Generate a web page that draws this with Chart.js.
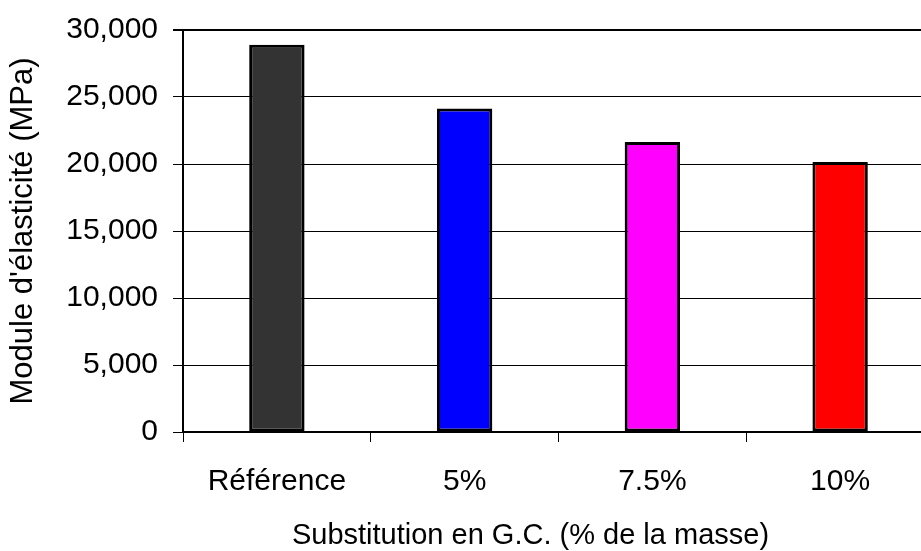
<!DOCTYPE html>
<html>
<head>
<meta charset="utf-8">
<script src="https://cdn.jsdelivr.net/npm/chart.js@4.4.0/dist/chart.umd.min.js"></script>
<style>
  html, body { margin: 0; padding: 0; background: #fff; overflow: hidden; }
  #wrap { width: 921px; height: 551px; overflow: hidden; }
</style>
</head>
<body>
<div id="wrap"><canvas id="chart" width="934" height="551"></canvas></div>
<script>
  // chart data
  const categories = ['Référence', '5%', '7.5%', '10%'];
  const modulus = [28900, 24150, 21650, 20150];
  const barColors = ['#333333', '#0000ff', '#ff00ff', '#ff0000'];
  const yTicks = [0, 5000, 10000, 15000, 20000, 25000, 30000];
  const xTitle = 'Substitution en G.C. (% de la masse)';
  const yTitle = "Module d'élasticité (MPa)";

  const family = '"Liberation Sans", Arial, sans-serif';
  const font = { family: family, size: 30 };

  // x title is drawn by hand, a bit left of the plot centre like the original
  const xTitlePlugin = {
    id: 'xTitle',
    afterDraw(chart) {
      const ctx = chart.ctx;
      const xs = chart.scales.x;
      ctx.save();
      ctx.font = '29px ' + family;
      ctx.fillStyle = '#000';
      ctx.textAlign = 'center';
      ctx.textBaseline = 'middle';
      ctx.fillText(xTitle, (xs.left + xs.right) / 2 - 28, 536);
      ctx.restore();
    }
  };

  new Chart(document.getElementById('chart').getContext('2d'), {
    type: 'bar',
    data: {
      labels: categories,
      datasets: [{
        data: modulus,
        backgroundColor: barColors,
        borderColor: '#000',
        borderWidth: 3,
        borderSkipped: false,
        barPercentage: 0.295,
        categoryPercentage: 1,
      }],
    },
    options: {
      responsive: false,
      animation: false,
      layout: { padding: { left: 1, right: 0, top: 10, bottom: 0 } },
      plugins: {
        legend: { display: false },
        tooltip: { enabled: false },
      },
      scales: {
        x: {
          grid: { drawOnChartArea: false, drawTicks: true, tickLength: 10, color: '#000', lineWidth: 1 },
          border: { color: '#000', width: 2 },
          ticks: { color: '#000', font: font, padding: 22 },
          afterFit: scale => { scale.height = 119; },
        },
        y: {
          min: 0,
          max: 30000,
          afterBuildTicks: scale => { scale.ticks = yTicks.map(v => ({ value: v })); },
          grid: {
            color: '#000',
            lineWidth: c => (c.tick && c.tick.value === 30000 ? 2 : 1),
            tickLength: 10,
          },
          border: { color: '#000', width: 2 },
          ticks: {
            color: '#000',
            font: { family: family, size: 30, lineHeight: 1 },
            padding: 15,
            callback: v => v.toLocaleString('en-US'),
          },
          title: { display: true, text: yTitle, color: '#000', font: { family: family, size: 31 }, padding: { top: 4, bottom: 0 } },
          afterFit: scale => { scale.width = 182; },
        },
      },
    },
    plugins: [xTitlePlugin],
  });
</script>
</body>
</html>
